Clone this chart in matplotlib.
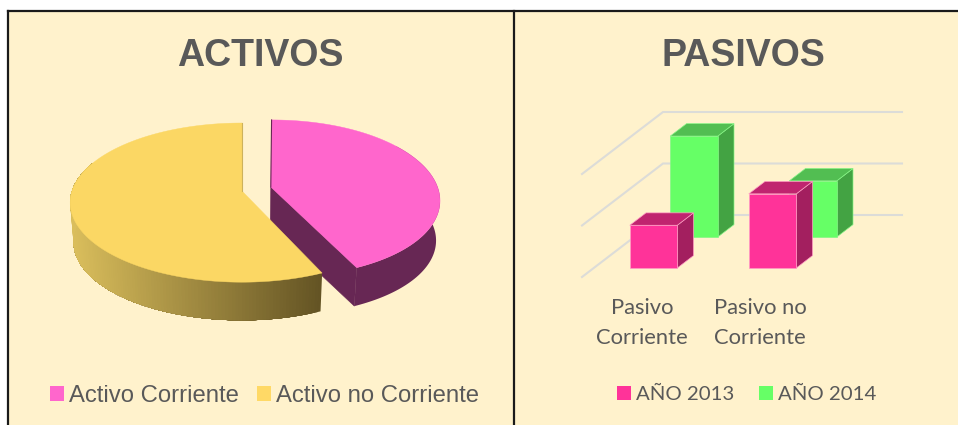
import numpy as np
import matplotlib
matplotlib.use("Agg")
import matplotlib.pyplot as plt
from matplotlib.patches import Rectangle, Patch

W, H = 958, 425

# ---- data ----
pie_labels = ["Activo Corriente", "Activo no Corriente"]
pie_values = [43.3, 56.7]
bar_categories = ["Pasivo\nCorriente", "Pasivo no\nCorriente"]
bar_series = ["AÑO 2013", "AÑO 2014"]
values_2013 = [0.83, 1.44]
values_2014 = [1.96, 1.09]
grid_ticks = [0, 1, 2]

# ---- styles ----
BG = "#FFF2CC"
TXT = "#595959"
PINK, PINK_SIDE = "#FF66CC", "#672754"
YEL, YEL_L, YEL_D = "#FBD764", np.array([218, 190, 92]) / 255, np.array([100, 84, 36]) / 255
BAR_COL = {"AÑO 2013": ("#FF3399", "#C0246F", "#A31F5F", "#FF9CC4"),
           "AÑO 2014": ("#66FF66", "#52BE52", "#43A343", "#86F586")}

fig = plt.figure(figsize=(W / 100, H / 100), dpi=100, facecolor="white")


def fx(p):
    return p / W


def fy(p):
    return 1 - p / H


# panels and borders
fig.add_artist(Rectangle((fx(8), 0), 1 - fx(8), fy(11), transform=fig.transFigure, fc=BG, ec="none", zorder=-5))
for xs, ys, lw in [((8, 8), (11, 425), 1.6), ((8, 958), (11, 11), 1.6), ((514, 514), (11, 425), 1.6)]:
    fig.add_artist(plt.Line2D([fx(xs[0]), fx(xs[1])], [fy(ys[0]), fy(ys[1])], color="#1a1a1a", lw=lw,
                              transform=fig.transFigure, zorder=-4))


def make_axes(x0, y0, x1, y1):
    ax = fig.add_axes([fx(x0), fy(y1), (x1 - x0) / W, (y1 - y0) / H])
    ax.axis("off")
    ax.patch.set_alpha(0)
    return ax


# ---- pie ----
PX0, PY0, PX1, PY1 = 40, 100, 460, 340
CX, CY = 242, 191
ax_p = make_axes(PX0, PY0, PX1, PY1)
ax_p.set_xlim(PX0 - CX, PX1 - CX)
ax_p.set_ylim(CY - PY1, CY - PY0)
A, B, K = 170.0, 77.9, 0.1457
DEPTH, BASE = 40.0, 0.98
EXPLODE = (29.0, 0.052)


def proj(theta, r=1.0, off=(0.0, 0.0), base=False, a=A, bend=0.0):
    t = np.radians(theta)
    X = off[0] + a * r * np.sin(t)
    Z = off[1] + r * np.cos(t)
    x = X / (1 + K * Z) + bend * Z * Z
    y = B * Z / (1 + K * Z)
    if base:
        x, y = x * BASE, y * BASE - DEPTH
    return x, y


def pink_pt(theta, r=1.0, base=False):
    return proj(theta, r, EXPLODE, base, a=168.0, bend=4.0)


sweep = 360 * pie_values[0] / sum(pie_values)

# pink wedge: wall + cut face as single polygons, then the top
th = np.linspace(55, sweep, 90)
top_arc = [pink_pt(t) for t in th]
low_arc = [pink_pt(t, 1, True) for t in th[::-1]]
wall = np.array(top_arc + low_arc)
ax_p.fill(wall[:, 0], wall[:, 1], fc=PINK_SIDE, ec="none", zorder=1)
cut = np.array([pink_pt(0, 0), pink_pt(sweep), pink_pt(sweep, 1, True), pink_pt(0, 0, True)])
ax_p.fill(cut[:, 0], cut[:, 1], fc=PINK_SIDE, ec=PINK_SIDE, lw=0.4, zorder=1)
th = np.linspace(0, sweep, 120)
pts = np.array([pink_pt(0, 0)] + [pink_pt(t) for t in th])
ax_p.fill(pts[:, 0], pts[:, 1], fc=PINK, ec=PINK, lw=0.3, zorder=2)
ln = np.array([pink_pt(0, 0), pink_pt(0)])
ax_p.plot(ln[:, 0], ln[:, 1], color=PINK_SIDE, lw=0.8, zorder=2)

# yellow wedge: gradient wall (strips overlap so no seams show), then the top
edges = np.arange(sweep, 292, 1.0)
x_r = proj(sweep)[0]
x_l = -A
for n, t0 in enumerate(edges[:-1]):
    f = np.clip((proj(t0)[0] - x_l) / (x_r - x_l), 0, 1)
    span = np.linspace(t0, edges[-1], 40)
    poly = np.array([proj(t) for t in span] + [proj(t, 1, (0, 0), True) for t in span[::-1]])
    ax_p.fill(poly[:, 0], poly[:, 1], fc=tuple(YEL_L * (1 - f) + YEL_D * f), ec="none", zorder=3 + n * 1e-4)
th = np.linspace(sweep, 360, 160)
pts = np.array([proj(0, 0)] + [proj(t) for t in th])
ax_p.fill(pts[:, 0], pts[:, 1], fc=YEL, ec=YEL, lw=0.3, zorder=4)
ln = np.array([proj(0, 0), proj(0, 1)])
ax_p.plot(ln[:, 0], ln[:, 1], color="#CDB25A", lw=0.8, zorder=4)

# ---- 3D bars ----
PXU, PYU = 119.0, 51.5        # pixels per category / per tick
ORX, ORY = 641.8, 277.0       # pixel of category 0, value 0, depth 0
DZX, DZY = 81.0 / PXU, 62.0 / PYU
BX0, BY0, BX1, BY1 = 560, 100, 920, 290
ax_b = make_axes(BX0, BY0, BX1, BY1)
ax_b.set_xlim((BX0 - ORX) / PXU, (BX1 - ORX) / PXU)
ax_b.set_ylim((ORY - BY1) / PYU, (ORY - BY0) / PYU)
X_LO, X_HI = (582 - ORX) / PXU, (821 - ORX) / PXU
for g in grid_ticks:
    ax_b.plot([X_LO, X_LO + DZX, X_HI + DZX], [g, g + DZY, g + DZY], color="#DCDCD8", lw=1.5, zorder=0,
              solid_joinstyle="miter")


def box(cat, val, z0, colors, zo):
    face, top, side, edge = colors
    w = 47.5 / PXU
    dz = 0.2
    x0, x1 = cat - w / 2 + z0 * DZX, cat + w / 2 + z0 * DZX
    y0, y1 = z0 * DZY, z0 * DZY + val
    dx, dy = dz * DZX, dz * DZY
    kw = dict(ec=edge, lw=0.5, zorder=zo)
    ax_b.fill([x1, x1 + dx, x1 + dx, x1], [y0, y0 + dy, y1 + dy, y1], fc=side, **kw)
    ax_b.fill([x0, x0 + dx, x1 + dx, x1], [y1, y1 + dy, y1 + dy, y1], fc=top, **kw)
    ax_b.fill([x0, x1, x1, x0], [y0, y0, y1, y1], fc=face, **kw)


for i, v in enumerate(values_2014):
    box(i, v, 0.645, BAR_COL["AÑO 2014"], 2 + i)
for i, v in enumerate(values_2013):
    box(i, v, 0.145, BAR_COL["AÑO 2013"], 5 + i)

# ---- text ----
fig.text(fx(260.5), fy(56), "ACTIVOS", ha="center", va="center", family="Liberation Sans", weight="bold",
         fontsize=27, color=TXT)
fig.text(fx(743), fy(56), "PASIVOS", ha="center", va="center", family="Liberation Sans", weight="bold",
         fontsize=27, color=TXT)
for cx, lab in zip([642, 760], bar_categories):
    for j, line in enumerate(lab.split("\n")):
        fig.text(fx(cx), fy(308 + 30 * j), line, ha="center", va="center", family="Lato", fontsize=15.8, color=TXT)

fig.legend(handles=[Patch(fc=PINK, ec="none", label=pie_labels[0]), Patch(fc="#FFD966", ec="none", label=pie_labels[1])],
           loc="center", bbox_to_anchor=(fx(264.5), fy(396)), ncol=2, frameon=False,
           prop={"family": "Liberation Sans", "size": 17.2}, labelcolor=TXT, handlelength=0.58, handleheight=0.58,
           handletextpad=0.22, columnspacing=0.75, borderpad=0, borderaxespad=0)
fig.legend(handles=[Patch(fc="#FF3399", ec="none", label=bar_series[0]), Patch(fc="#66FF66", ec="none", label=bar_series[1])],
           loc="center", bbox_to_anchor=(fx(747), fy(394.5)), ncol=2, frameon=False,
           prop={"family": "Lato", "size": 14.7}, labelcolor=TXT, handlelength=0.68, handleheight=0.68,
           handletextpad=0.25, columnspacing=1.2, borderpad=0, borderaxespad=0)

fig.savefig("out.png", dpi=100, facecolor="white")
